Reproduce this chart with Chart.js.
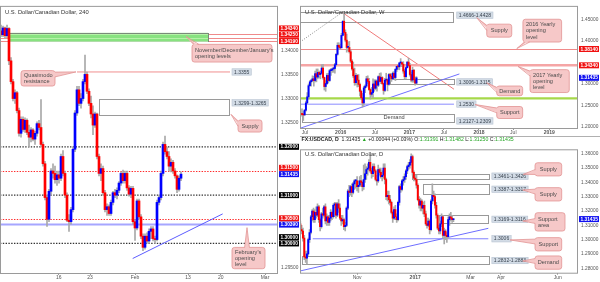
<!DOCTYPE html>
<html><head><meta charset="utf-8">
<script src="https://cdn.jsdelivr.net/npm/chart.js@4"></script>
<style>
html,body{margin:0;padding:0;background:#fff;width:600px;height:282px;overflow:hidden}
canvas{position:absolute}
#c1{left:0;top:0}
#c2{left:300px;top:0}
#c3{left:300px;top:136px}
</style></head><body>
<canvas id="c1" width="300" height="282"></canvas>
<canvas id="c2" width="300" height="136"></canvas>
<canvas id="c3" width="300" height="146"></canvas>
<script>
// ===================== DATA =====================
// Left panel: USDCAD 240 (4H)
const leftOpen = [1.3440,1.3432,1.3446,1.3430,1.3445,1.3378,1.3335,1.3300,1.3312,1.3275, 1.3228,1.3257,1.3236,1.3255,1.3230,1.3220,1.3235,1.3216,1.3228,1.3248, 1.3240,1.3205,1.3165,1.3095,1.3050,1.3108,1.3150,1.3145,1.3132,1.3142, 1.3135,1.3180,1.3145,1.3100,1.3048,1.3045,1.3070,1.3195,1.3270,1.3318, 1.3290,1.3300,1.3335,1.3350,1.3315,1.3290,1.3268,1.3245,1.3268,1.3180, 1.3145,1.3155,1.3105,1.3070,1.3076,1.3062,1.3085,1.3105,1.3100,1.3110, 1.3125,1.3145,1.3130,1.3145,1.3115,1.3102,1.3114,1.3045,1.3032,1.3088, 1.3055,1.3015,1.2992,1.3015,1.3005,1.3025,1.3030,1.3010,1.3008,1.3085, 1.3095,1.3145,1.3205,1.3190,1.3180,1.3160,1.3168,1.3150,1.3140,1.3112, 1.3135];
const leftHigh = [1.3452,1.3450,1.3448,1.3452,1.3447,1.3385,1.3340,1.3318,1.3315,1.3280, 1.3262,1.3262,1.3260,1.3258,1.3245,1.3240,1.3238,1.3232,1.3252,1.3255, 1.3298,1.3210,1.3170,1.3100,1.3112,1.3155,1.3165,1.3160,1.3150,1.3150, 1.3185,1.3192,1.3150,1.3105,1.3060,1.3075,1.3200,1.3275,1.3325,1.3325, 1.3310,1.3340,1.3390,1.3355,1.3320,1.3305,1.3285,1.3272,1.3270,1.3185, 1.3165,1.3160,1.3110,1.3082,1.3080,1.3090,1.3108,1.3112,1.3115,1.3128, 1.3148,1.3152,1.3150,1.3150,1.3120,1.3118,1.3118,1.3050,1.3092,1.3092, 1.3060,1.3020,1.3020,1.3022,1.3030,1.3035,1.3035,1.3015,1.3090,1.3100, 1.3150,1.3210,1.3222,1.3200,1.3190,1.3175,1.3172,1.3155,1.3142,1.3140, 1.3148];
const leftLow = [1.3428,1.3428,1.3425,1.3426,1.3370,1.3330,1.3295,1.3290,1.3270,1.3222, 1.3220,1.3232,1.3230,1.3225,1.3200,1.3210,1.3212,1.3205,1.3222,1.3235, 1.3200,1.3160,1.3090,1.3035,1.3045,1.3100,1.3135,1.3125,1.3120,1.3125, 1.3130,1.3140,1.3095,1.3045,1.3025,1.3040,1.3065,1.3190,1.3265,1.3285, 1.3280,1.3295,1.3330,1.3310,1.3285,1.3260,1.3225,1.3240,1.3175,1.3140, 1.3130,1.3100,1.3065,1.3058,1.3058,1.3058,1.3080,1.3095,1.3092,1.3105, 1.3120,1.3125,1.3125,1.3110,1.3098,1.3095,1.3040,1.3006,1.3028,1.3050, 1.3010,1.2985,1.2988,1.3000,1.3000,1.3010,1.3005,1.3000,1.3005,1.3080, 1.3090,1.3140,1.3185,1.3175,1.3150,1.3148,1.3145,1.3135,1.3105,1.3108, 1.3130];
const leftClose = [1.3432,1.3446,1.3430,1.3445,1.3378,1.3335,1.3300,1.3312,1.3275,1.3228, 1.3257,1.3236,1.3255,1.3230,1.3220,1.3235,1.3216,1.3228,1.3248,1.3240, 1.3205,1.3165,1.3095,1.3050,1.3108,1.3150,1.3145,1.3132,1.3142,1.3135, 1.3180,1.3145,1.3100,1.3048,1.3045,1.3070,1.3195,1.3270,1.3318,1.3290, 1.3300,1.3335,1.3350,1.3315,1.3290,1.3268,1.3245,1.3268,1.3180,1.3145, 1.3155,1.3105,1.3070,1.3076,1.3062,1.3085,1.3105,1.3100,1.3110,1.3125, 1.3145,1.3130,1.3145,1.3115,1.3102,1.3114,1.3045,1.3032,1.3088,1.3055, 1.3015,1.2992,1.3015,1.3005,1.3025,1.3030,1.3010,1.3008,1.3085,1.3095, 1.3145,1.3205,1.3190,1.3180,1.3160,1.3168,1.3150,1.3140,1.3112,1.3135, 1.31435];
const leftXTickPos = [28.85, 44.5, 67, 93.5, 109.85, 132];
const leftXTickLabels = ['16','23','Feb','13','20','Mar'];
const leftYTicks = [1.295, 1.325, 1.330, 1.335, 1.340];
const leftOpeningLevels = [1.3434, 1.3425, 1.3419];
const leftRoundLevels = [1.32, 1.31, 1.30];
const leftMidLevels = [1.315, 1.305];
const leftFebOpen = 1.3039;
const leftQMLevel = 1.3355;
const leftSupplyZone = [1.3299, 1.3265];
const leftTagLevels = [1.3434, 1.3425, 1.3419, 1.32, 1.315, 1.31435, 1.31, 1.305, 1.3039, 1.30, 1.30];
const leftTagKinds  = ['r','r','r','k','r','b','k','r','b','k','k'];

// Top-right panel: USDCAD weekly (Jun 2015 - Feb 2017)
const wkOpen = [1.2300,1.2290,1.2280,1.2390,1.2560,1.2700,1.2960,1.3050,1.3080,1.3120, 1.3080,1.3240,1.3160,1.3270,1.3220,1.3250,1.3370,1.3150,1.2940,1.3010, 1.3200,1.3080,1.3310,1.3320,1.3350,1.3360,1.3450,1.3690,1.3900,1.3860, 1.3840,1.4130,1.4460,1.4200,1.4020,1.3850,1.3850,1.3750,1.3530,1.3350, 1.3190,1.3030,1.3200,1.3090,1.2990,1.2830,1.2680,1.2560,1.2910,1.2950, 1.3120,1.3060,1.2870,1.2760,1.2800,1.3000,1.2900,1.3070,1.2970,1.3170, 1.3060,1.3150,1.3010,1.2850,1.3090,1.3100,1.2990,1.3220,1.3180,1.3120, 1.3250,1.3150,1.3340,1.3410,1.3400,1.3490,1.3500,1.3460,1.3300,1.3170, 1.3380,1.3510,1.3430,1.3220,1.3090,1.3320,1.3100,1.3020];
const wkHigh = [1.2420,1.2360,1.2410,1.2600,1.2800,1.3000,1.3080,1.3110,1.3190,1.3180, 1.3300,1.3350,1.3350,1.3300,1.3300,1.3450,1.3460,1.3160,1.3080,1.3240, 1.3250,1.3340,1.3360,1.3370,1.3390,1.3480,1.3710,1.3960,1.3960,1.3930, 1.4180,1.4470,1.4690,1.4260,1.4160,1.3980,1.3990,1.3800,1.3570,1.3510, 1.3370,1.3250,1.3220,1.3220,1.3020,1.2860,1.2780,1.2950,1.2980,1.3180, 1.3190,1.3130,1.2890,1.2920,1.3120,1.3100,1.3100,1.3090,1.3190,1.3250, 1.3260,1.3170,1.3020,1.3130,1.3250,1.3120,1.3240,1.3250,1.3240,1.3280, 1.3290,1.3360,1.3420,1.3450,1.3500,1.3590,1.3510,1.3520,1.3340,1.3400, 1.3520,1.3600,1.3480,1.3280,1.3390,1.3340,1.3160,1.3170];
const wkLow = [1.2250,1.2150,1.2270,1.2370,1.2540,1.2650,1.2950,1.2950,1.3050,1.2950, 1.3050,1.3050,1.3120,1.3140,1.3120,1.3240,1.3110,1.2860,1.2830,1.2990, 1.3020,1.3060,1.3200,1.3270,1.3270,1.3250,1.3420,1.3670,1.3830,1.3800, 1.3840,1.4120,1.4150,1.3980,1.3740,1.3770,1.3720,1.3490,1.3320,1.3150, 1.2970,1.2980,1.2930,1.2940,1.2720,1.2650,1.2460,1.2500,1.2800,1.2920, 1.3010,1.2850,1.2650,1.2710,1.2680,1.2830,1.2870,1.2830,1.2940,1.3050, 1.3010,1.2990,1.2760,1.2820,1.3060,1.2840,1.2970,1.3070,1.3060,1.3100, 1.3110,1.3080,1.3290,1.3340,1.3330,1.3460,1.3400,1.3250,1.3120,1.3130, 1.3370,1.3410,1.3180,1.3050,1.3040,1.3040,1.2970,1.2990];
const wkClose = [1.2290,1.2280,1.2390,1.2560,1.2700,1.2960,1.3050,1.3080,1.3120,1.3080, 1.3240,1.3160,1.3270,1.3220,1.3250,1.3370,1.3150,1.2940,1.3010,1.3200, 1.3080,1.3310,1.3320,1.3350,1.3360,1.3450,1.3690,1.3900,1.3860,1.3840, 1.4130,1.4460,1.4200,1.4020,1.3850,1.3850,1.3750,1.3530,1.3350,1.3190, 1.3030,1.3200,1.3090,1.2990,1.2830,1.2680,1.2560,1.2910,1.2950,1.3120, 1.3060,1.2870,1.2760,1.2800,1.3000,1.2900,1.3070,1.2970,1.3170,1.3060, 1.3150,1.3010,1.2850,1.3090,1.3100,1.2990,1.3220,1.3180,1.3120,1.3250, 1.3150,1.3340,1.3410,1.3400,1.3490,1.3500,1.3460,1.3300,1.3170,1.3380, 1.3510,1.3430,1.3220,1.3090,1.3320,1.3100,1.3020,1.31435];
const wkXTickPos = [2.3, 29.4, 55.5, 81.6, 107.9, 134.5, 160.6, 187.9];
const wkXTickLabels = ['Jul','2016','Jul','2017','Jul','2018','Jul','2019'];
const wkYTicks = [1.20, 1.25, 1.30, 1.40, 1.45];
const wkYearOpen = [1.3814, 1.3434];
const wkSupplyZone = [1.4666, 1.4428];
const wkDemandZone = [1.3006, 1.3115];
const wkDemandZone2 = [1.2127, 1.2309];
const wkSupport = 1.2530;
const wkGreenLevel = 1.2665;
const wkTagLevels = [1.3814, 1.3434, 1.31435];
const wkTagKinds = ['r','r','b'];

// Bottom-right panel: USDCAD daily (Sep 2016 - Feb 2017)
const dOpen = [1.3110,1.3070,1.3060,1.3010,1.2880,1.2870,1.2900,1.3000,1.3050,1.3160, 1.3200,1.3140,1.3190,1.3170,1.3230,1.3140,1.3090,1.3180,1.3170,1.3230, 1.3130,1.3160,1.3120,1.3150,1.3190,1.3160,1.3240,1.3250,1.3170,1.3250, 1.3220,1.3150,1.3130,1.3140,1.3090,1.3100,1.3220,1.3340,1.3330,1.3370, 1.3330,1.3390,1.3410,1.3410,1.3370,1.3380,1.3410,1.3400,1.3370,1.3420, 1.3460,1.3490,1.3500,1.3540,1.3480,1.3460,1.3510,1.3480,1.3420,1.3410, 1.3490,1.3470,1.3440,1.3450,1.3500,1.3420,1.3300,1.3310,1.3280,1.3260, 1.3190,1.3150,1.3210,1.3160,1.3140,1.3260,1.3370,1.3350,1.3410,1.3420, 1.3440,1.3480,1.3510,1.3520,1.3540,1.3580,1.3470,1.3430,1.3420,1.3380, 1.3280,1.3240,1.3270,1.3220,1.3240,1.3180,1.3110,1.3100,1.3130,1.3070, 1.3270,1.3310,1.3300,1.3240,1.3170,1.3080,1.3060,1.3110,1.3160,1.3030, 1.3060,1.3030,1.3020,1.3140,1.3160,1.3150,1.31391];
const dHigh = [1.3130,1.3100,1.3080,1.3030,1.2920,1.2920,1.3010,1.3070,1.3170,1.3210, 1.3220,1.3210,1.3230,1.3250,1.3240,1.3150,1.3190,1.3220,1.3240,1.3250, 1.3180,1.3170,1.3170,1.3210,1.3200,1.3250,1.3260,1.3260,1.3260,1.3280, 1.3250,1.3170,1.3170,1.3150,1.3120,1.3230,1.3350,1.3380,1.3380,1.3390, 1.3400,1.3420,1.3420,1.3440,1.3410,1.3440,1.3450,1.3410,1.3520,1.3530, 1.3510,1.3530,1.3560,1.3590,1.3500,1.3530,1.3530,1.3490,1.3450,1.3520, 1.3500,1.3500,1.3480,1.3530,1.3530,1.3430,1.3340,1.3340,1.3310,1.3270, 1.3200,1.3230,1.3240,1.3180,1.3270,1.3380,1.3390,1.3420,1.3440,1.3460, 1.3490,1.3520,1.3540,1.3560,1.3600,1.3590,1.3480,1.3450,1.3450,1.3390, 1.3300,1.3290,1.3280,1.3260,1.3270,1.3200,1.3150,1.3150,1.3140,1.3280, 1.3390,1.3340,1.3320,1.3260,1.3180,1.3100,1.3130,1.3180,1.3170,1.3080, 1.3070,1.3050,1.3160,1.3180,1.3190,1.3170,1.31482];
const dLow = [1.3060,1.3040,1.2990,1.2860,1.2840,1.2830,1.2890,1.2980,1.3040,1.3130, 1.3120,1.3120,1.3150,1.3160,1.3120,1.3060,1.3080,1.3150,1.3160,1.3110, 1.3100,1.3100,1.3100,1.3130,1.3140,1.3150,1.3160,1.3150,1.3160,1.3190, 1.3140,1.3100,1.3110,1.3070,1.3060,1.3090,1.3210,1.3300,1.3310,1.3300, 1.3320,1.3350,1.3360,1.3340,1.3330,1.3370,1.3370,1.3340,1.3350,1.3400, 1.3420,1.3450,1.3480,1.3470,1.3430,1.3440,1.3470,1.3410,1.3380,1.3400, 1.3450,1.3430,1.3410,1.3430,1.3390,1.3280,1.3270,1.3250,1.3240,1.3180, 1.3120,1.3140,1.3140,1.3120,1.3130,1.3240,1.3330,1.3340,1.3380,1.3400, 1.3420,1.3460,1.3490,1.3500,1.3520,1.3450,1.3410,1.3410,1.3360,1.3270, 1.3220,1.3200,1.3200,1.3180,1.3160,1.3100,1.3080,1.3090,1.3040,1.3060, 1.3250,1.3270,1.3220,1.3150,1.3070,1.3040,1.3040,1.3090,1.3010,1.2970, 1.3000,1.2980,1.3010,1.3100,1.3130,1.3120,1.31250];
const dClose = [1.3070,1.3060,1.3010,1.2880,1.2870,1.2900,1.3000,1.3050,1.3160,1.3200, 1.3140,1.3190,1.3170,1.3230,1.3140,1.3090,1.3180,1.3170,1.3230,1.3130, 1.3160,1.3120,1.3150,1.3190,1.3160,1.3240,1.3250,1.3170,1.3250,1.3220, 1.3150,1.3130,1.3140,1.3090,1.3100,1.3220,1.3340,1.3330,1.3370,1.3330, 1.3390,1.3410,1.3410,1.3370,1.3380,1.3410,1.3400,1.3370,1.3420,1.3460, 1.3490,1.3500,1.3540,1.3480,1.3460,1.3510,1.3480,1.3420,1.3410,1.3490, 1.3470,1.3440,1.3450,1.3500,1.3420,1.3300,1.3310,1.3280,1.3260,1.3190, 1.3150,1.3210,1.3160,1.3140,1.3260,1.3370,1.3350,1.3410,1.3420,1.3440, 1.3480,1.3510,1.3520,1.3540,1.3580,1.3470,1.3430,1.3420,1.3380,1.3280, 1.3240,1.3270,1.3220,1.3240,1.3180,1.3110,1.3100,1.3130,1.3070,1.3270, 1.3310,1.3300,1.3240,1.3170,1.3080,1.3060,1.3110,1.3160,1.3030,1.3060, 1.3030,1.3020,1.3140,1.3160,1.3150,1.3140,1.31435];
const dXTickPos = [43, 87, 129, 152, 195];
const dXTickLabels = ['Nov','2017','Mar','Apr','Jun'];
const dYTicks = [1.28, 1.29, 1.30, 1.31, 1.32, 1.33, 1.34, 1.35, 1.36];
const dSupply1 = [1.3461, 1.3426];
const dSupply2 = [1.3387, 1.3317];
const dSupportArea = [1.3169, 1.3116];
const dSupport = 1.3006;
const dDemand = [1.2883, 1.2825];
const dDemandText = '1.2832-1.2883';
const dTagLevels = [1.31435];
const dTagKinds = ['b'];

// ===================== RENDERING =====================
const SANS = '"Liberation Sans", Arial, Helvetica, sans-serif';
Chart.defaults.font.family = SANS;
const TAGCOL = {r:'#f01010', b:'#1010f0', k:'#000000'};

function candleDatasets(O,H,L,C,bodyW){
  const body=[], wick=[], cols=[];
  for (let i=0;i<C.length;i++){
    wick.push({x:i, y:[Math.min(L[i],O[i],C[i]), Math.max(H[i],O[i],C[i])]});
    body.push({x:i, y:[Math.min(O[i],C[i]), Math.max(O[i],C[i])]});
    cols.push(C[i] >= O[i] ? '#0000ff' : '#ff0000');
  }
  return [
    {data:body, backgroundColor:cols, barThickness:bodyW, minBarLength:1, grouped:false, borderWidth:0, order:1},
    {data:wick, backgroundColor:'#a9a9a9', barThickness:1, grouped:false, borderWidth:0, order:2}
  ];
}
function X(c,v){return c.scales.x.getPixelForValue(v);}
function Y(c,v){return c.scales.y.getPixelForValue(v);}
function rrect(ctx,x,y,w,h,r){ctx.beginPath();ctx.moveTo(x+r,y);ctx.arcTo(x+w,y,x+w,y+h,r);ctx.arcTo(x+w,y+h,x,y+h,r);ctx.arcTo(x,y+h,x,y,r);ctx.arcTo(x,y,x+w,y,r);ctx.closePath();}

function drawItem(c, it){
  const ctx=c.ctx, ca=c.chartArea;
  ctx.save();
  ctx.setLineDash(it.dash||[]);
  ctx.lineWidth = it.w||1;
  ctx.strokeStyle = it.color||'#909090';
  if (it.t==='hline'){
    let y=Y(c,it.v); if ((it.w||1)%2===1) y=Math.round(y)+0.5;
    const x0 = it.x0==null?ca.left:X(c,it.x0), x1 = it.x1==null?ca.right:X(c,it.x1);
    ctx.beginPath();ctx.moveTo(x0,y);ctx.lineTo(x1,y);ctx.stroke();
  } else if (it.t==='seg'){
    ctx.beginPath();ctx.moveTo(X(c,it.x0),Y(c,it.y0));ctx.lineTo(X(c,it.x1),Y(c,it.y1));ctx.stroke();
  } else if (it.t==='rect'){
    const x0=X(c,it.x0),x1=X(c,it.x1),y0=Y(c,it.y0),y1=Y(c,it.y1);
    const l=Math.min(x0,x1),t=Math.min(y0,y1),w=Math.abs(x1-x0),h=Math.abs(y1-y0);
    if (it.fill){ctx.fillStyle=it.fill;ctx.fillRect(l,t,w,h);}
    if (it.color!=='none'){ctx.strokeRect(Math.round(l)+0.5,Math.round(t)+0.5,Math.round(w),Math.round(h));}
  } else if (it.t==='plabel'){
    ctx.font='5px '+SANS;
    const tw=ctx.measureText(it.text).width;
    const x=X(c,it.x), y=Y(c,it.v);
    ctx.fillStyle='#d3dce6';ctx.fillRect(x,y-3.2,tw+4,6.4);
    ctx.strokeStyle='#b8c4d2';ctx.lineWidth=0.6;ctx.strokeRect(x,y-3.2,tw+4,6.4);
    ctx.fillStyle='#3a4450';ctx.textBaseline='middle';ctx.textAlign='left';ctx.fillText(it.text,x+2,y+0.3);
  } else if (it.t==='text'){
    ctx.font=(it.font||'5.5px ')+SANS;ctx.fillStyle=it.fill||'#333';ctx.textBaseline='middle';ctx.textAlign=it.align||'center';
    ctx.fillText(it.text,X(c,it.x),Y(c,it.v));
  } else if (it.t==='callout'){
    const x0=X(c,it.x0),x1=X(c,it.x1),y0=Y(c,it.y0),y1=Y(c,it.y1);
    const l=Math.min(x0,x1),r=Math.max(x0,x1),t=Math.min(y0,y1),b=Math.max(y0,y1);
    const tx=X(c,it.tx), ty=Y(c,it.ty);
    const dx = tx<l?l-tx:(tx>r?tx-r:0), dy = ty<t?t-ty:(ty>b?ty-b:0);
    const hw=2.4; let q1,q2,p1,p2;
    if (dx>=dy){ const by=Math.max(t+hw+1.5,Math.min(b-hw-1.5,ty)); const ex=tx<l?l:r; const s=tx<l?1.5:-1.5;
      q1=[ex,by-hw];q2=[ex,by+hw];p1=[ex+s,by-hw];p2=[ex+s,by+hw]; }
    else { const bx=Math.max(l+hw+2,Math.min(r-hw-2,tx)); const ey=ty<t?t:b; const s=ty<t?1.5:-1.5;
      q1=[bx-hw,ey];q2=[bx+hw,ey];p1=[bx-hw,ey+s];p2=[bx+hw,ey+s]; }
    ctx.fillStyle='#f6c8c8';ctx.strokeStyle='#e29393';ctx.lineWidth=0.8;
    rrect(ctx,l,t,r-l,b-t,2.5);ctx.fill();ctx.stroke();
    ctx.beginPath();ctx.moveTo(p1[0],p1[1]);ctx.lineTo(tx,ty);ctx.lineTo(p2[0],p2[1]);ctx.closePath();ctx.fill();
    ctx.beginPath();ctx.moveTo(q1[0],q1[1]);ctx.lineTo(tx,ty);ctx.lineTo(q2[0],q2[1]);ctx.stroke();
    ctx.fillStyle='#4b4b4b';ctx.font='5.6px '+SANS;ctx.textBaseline='middle';
    const n=it.lines.length, lh=6.3, cy=(t+b)/2;
    ctx.textAlign = n>1 ? 'left':'center';
    const xx = n>1 ? l+3 : (l+r)/2;
    it.lines.forEach((s,k)=>ctx.fillText(s,xx,cy+(k-(n-1)/2)*lh+0.3));
  }
  ctx.restore();
}

function drawTags(c, levels, kinds){
  const ctx=c.ctx, ca=c.chartArea;
  const items = levels.map((v,i)=>({v, k:kinds[i], y:Y(c,v)}));
  items.sort((a,b)=>b.y-a.y);
  for (let k=1;k<items.length;k++) if (items[k-1].y-items[k].y<6.3) items[k].y=items[k-1].y-6.3;
  const x=ca.right+1, w=c.width-ca.right-2, h=6;
  ctx.save();
  items.forEach(t=>{
    ctx.fillStyle=TAGCOL[t.k];ctx.fillRect(x,t.y-h/2,w,h);
    ctx.fillStyle='#fff';ctx.font='bold 4.8px '+SANS;ctx.textBaseline='middle';ctx.textAlign='left';
    ctx.fillText(t.v.toFixed(5),x+1.5,t.y+0.3);
  });
  ctx.restore();
}

function annotPlugin(o){
  return {
    id:'annot',
    beforeDatasetsDraw(c){
      const ctx=c.ctx, ca=c.chartArea;
      ctx.save();ctx.beginPath();ctx.rect(ca.left,ca.top,ca.right-ca.left,ca.bottom-ca.top);ctx.clip();
      o.under.forEach(it=>drawItem(c,it));
      ctx.restore();
    },
    afterDraw(c){
      const ctx=c.ctx, ca=c.chartArea;
      ctx.save();
      ctx.strokeStyle='#9a9a9a';ctx.lineWidth=1;
      ctx.strokeRect(ca.left+0.5,ca.top+0.5,ca.right-ca.left-1,ca.bottom-ca.top);
      ctx.restore();
      ctx.save();ctx.beginPath();ctx.rect(ca.left,ca.top,ca.right-ca.left,ca.bottom-ca.top);ctx.clip();
      o.over.forEach(it=>drawItem(c,it));
      ctx.restore();
      ctx.save();
      ctx.font='5.8px '+SANS;ctx.fillStyle='#333';ctx.textBaseline='middle';ctx.textAlign='left';
      ctx.fillText(o.title, ca.left+5, ca.top+o.titleDY);
      ctx.restore();
      drawTags(c,o.tagLevels,o.tagKinds);
      if (o.extra) o.extra(c);
    }
  };
}

function makeChart(id,o){
  return new Chart(document.getElementById(id),{
    type:'bar',
    data:{datasets:candleDatasets(o.O,o.H,o.L,o.C,o.bodyW)},
    options:{
      responsive:false, animation:false, devicePixelRatio:1, events:[],
      layout:{autoPadding:false, padding:{top:o.padTop,left:0,right:0,bottom:0}},
      plugins:{legend:{display:false},tooltip:{enabled:false}},
      scales:{
        x:{type:'linear',min:o.xMin,max:o.xMax,offset:false,
           grid:{display:true,drawOnChartArea:false,drawTicks:true,tickLength:2,color:'#999',offset:false},
           border:{display:false},
           afterBuildTicks:s=>{s.ticks=o.xTickPos.map(v=>({value:v}));},
           afterFit:s=>{s.height=o.xH;},
           ticks:{autoSkip:false,maxRotation:0,minRotation:0,padding:0,color:'#555',
                  font:ctx=>({size:5,family:SANS,weight:/^\d{4}$/.test(o.xTickLabels[ctx.index]||'')?'bold':'normal'}),
                  callback:(v,i)=>o.xTickLabels[i]}},
        y:{type:'linear',position:'right',min:o.yMin,max:o.yMax,
           grid:{display:false,drawTicks:false,tickLength:0},border:{display:false},
           afterBuildTicks:s=>{s.ticks=o.yTicks.map(v=>({value:v}));},
           afterFit:s=>{s.width=o.yW;},
           ticks:{autoSkip:false,padding:3,color:'#555',font:{size:4.8,family:SANS},callback:v=>Number(v).toFixed(5)}}
      }
    },
    plugins:[annotPlugin(o)]
  });
}

// ---------- Left 240 chart ----------
const pinkLine='#ef8a8a';
makeChart('c1',{
  O:leftOpen,H:leftHigh,L:leftLow,C:leftClose,bodyW:2,
  padTop:2,xH:9,yW:22,xMin:-0.5,xMax:138.5,yMin:1.29388,yMax:1.34918,
  xTickPos:leftXTickPos,xTickLabels:leftXTickLabels,yTicks:leftYTicks,
  tagLevels:leftTagLevels,tagKinds:leftTagKinds,
  title:'U.S. Dollar/Canadian Dollar, 240',titleDY:7,
  under:[
    ...leftOpeningLevels.map(v=>({t:'hline',v,color:pinkLine})),
    {t:'rect',x0:4,x1:103.5,y0:leftOpeningLevels[0]+0.0002,y1:leftOpeningLevels[2],fill:'rgba(120,222,110,0.88)',color:'#7a8a7a'},
    ...leftOpeningLevels.map(v=>({t:'hline',v,x0:4,x1:103.5,color:'rgba(200,255,190,0.7)'})),
    {t:'hline',v:leftOpeningLevels[0],x1:4,color:'#d05050'},
    {t:'seg',x0:38,y0:leftQMLevel,x1:114.5,y1:leftQMLevel,color:'#f09090'},
    {t:'rect',x0:49,x1:114,y0:leftSupplyZone[0],y1:leftSupplyZone[1],color:'#9a9a9a'},
    ...leftRoundLevels.map(v=>({t:'hline',v,color:'#333',w:1.3,dash:[1.4,1.4]})),
    ...leftMidLevels.map(v=>({t:'hline',v,color:'#ff2a2a',w:1,dash:[1.4,1.4]})),
    {t:'hline',v:leftFebOpen,color:'#a6a6ff',w:2},
    {t:'seg',x0:65.85,y0:1.29688,x1:110.85,y1:1.30612,color:'#5c5cff'}
  ],
  over:[
    {t:'plabel',x:115.5,v:leftQMLevel,text:'1.3355'},
    {t:'plabel',x:115.5,v:1.3291,text:leftSupplyZone.join('-')},
    {t:'callout',x0:95.5,x1:135.5,y0:1.34122,y1:1.33755,tx:92.5,ty:1.34286,lines:["November/December/January's",'opening levels']},
    {t:'callout',x0:10,x1:27,y0:1.33578,y1:1.33259,tx:37.5,ty:1.33551,lines:['Quasimodo','resistance']},
    {t:'callout',x0:118.5,x1:130.5,y0:1.32557,y1:1.32306,tx:115,ty:1.32673,lines:['Supply']},
    {t:'callout',x0:115.5,x1:132,y0:1.29918,y1:1.29476,tx:123,ty:1.30327,lines:["February's",'opening','level']}
  ]
});

// ---------- Top-right weekly chart ----------
makeChart('c2',{
  O:wkOpen,H:wkHigh,L:wkLow,C:wkClose,bodyW:1.3,
  padTop:3,xH:8,yW:22,xMin:-1.5,xMax:209.75,yMin:1.1976,yMax:1.4817,
  xTickPos:wkXTickPos,xTickLabels:wkXTickLabels,yTicks:wkYTicks,
  tagLevels:wkTagLevels,tagKinds:wkTagKinds,
  title:'U.S. Dollar/Canadian Dollar, W',titleDY:6.3,
  under:[
    {t:'seg',x0:-1.5,y0:1.3976,x1:30.2,y1:1.4658,color:'#8a8a8a',dash:[1,1.5]},
    {t:'rect',x0:-1.5,x1:115,y0:wkSupplyZone[0],y1:wkSupplyZone[1],color:'#999'},
    {t:'seg',x0:30.95,y0:1.4658,x1:115.5,y1:1.2878,color:'#f07a7a'},
    {t:'hline',v:wkYearOpen[0],color:'#f08a8a',w:1},
    {t:'hline',v:wkYearOpen[1],color:'#f5a5a5',w:2.5},
    {t:'rect',x0:66.9,x1:115.5,y0:wkDemandZone[0],y1:wkDemandZone[1],color:'#999'},
    {t:'seg',x0:-1.5,y0:1.1969,x1:119.6,y1:1.3233,color:'#7070ff'},
    {t:'hline',v:wkGreenLevel,color:'#a6d84a',w:2.2},
    {t:'seg',x0:-1.5,y0:wkSupport,x1:115.5,y1:wkSupport,color:'#8a8aff'},
    {t:'rect',x0:-0.2,x1:115.5,y0:wkDemandZone2[0],y1:wkDemandZone2[1],color:'#999'}
  ],
  over:[
    {t:'text',x:70,v:1.2218,text:'Demand',font:'5.6px ',fill:'#444'},
    {t:'plabel',x:117.6,v:1.4601,text:wkSupplyZone.join('-')},
    {t:'plabel',x:117.6,v:1.3048,text:wkDemandZone.join('-')},
    {t:'plabel',x:117.6,v:1.2533,text:wkSupport.toFixed(4)},
    {t:'plabel',x:117.6,v:1.2140,text:wkDemandZone2.join('-')},
    {t:'callout',x0:140.4,x1:159.4,y0:1.4392,y1:1.4090,tx:132.8,ty:1.4544,lines:['Supply']},
    {t:'callout',x0:167.9,x1:197.3,y0:1.4506,y1:1.3976,tx:163.2,ty:1.3824,lines:['2016 Yearly','opening','level']},
    {t:'callout',x0:173.3,x1:203.1,y0:1.3333,y1:1.2801,tx:164.2,ty:1.3408,lines:['2017 Yearly','opening','level']},
    {t:'callout',x0:148,x1:167.7,y0:1.2953,y1:1.2726,tx:140.4,ty:1.3028,lines:['Demand']},
    {t:'callout',x0:148,x1:167.7,y0:1.2476,y1:1.2197,tx:131.5,ty:1.2522,lines:['Support']}
  ]
});

// ---------- Bottom-right daily chart ----------
const last = dClose.length-1;
makeChart('c3',{
  O:dOpen,H:dHigh,L:dLow,C:dClose,bodyW:1.3,
  padTop:13.3,xH:9.3,yW:22,xMin:-0.25,xMax:210.35,yMin:1.2769,yMax:1.3631,
  xTickPos:dXTickPos,xTickLabels:dXTickLabels,yTicks:dYTicks,
  tagLevels:dTagLevels,tagKinds:dTagKinds,
  title:'U.S. Dollar/Canadian Dollar, D',titleDY:5,
  under:[
    {t:'rect',x0:84.4,x1:142.4,y0:dSupply1[0],y1:dSupply1[1],color:'#999'},
    {t:'rect',x0:92.7,x1:142.4,y0:dSupply2[0],y1:dSupply2[1],color:'#999'},
    {t:'rect',x0:105.3,x1:142.4,y0:dSupportArea[0],y1:dSupportArea[1],color:'#999'},
    {t:'rect',x0:1.0,x1:142.4,y0:dDemand[0],y1:dDemand[1],color:'#999'},
    {t:'seg',x0:9.4,y0:dSupport,x1:142.4,y1:dSupport,color:'#8080ff'},
    {t:'seg',x0:-0.25,y0:1.2781,x1:142.4,y1:1.3079,color:'#6e6eff'}
  ],
  over:[
    {t:'plabel',x:145.1,v:1.34435,text:dSupply1.join('-')},
    {t:'plabel',x:145.1,v:1.3352,text:dSupply2.join('-')},
    {t:'plabel',x:145.1,v:1.3142,text:dSupportArea.join('-')},
    {t:'plabel',x:145.1,v:dSupport,text:dSupport.toFixed(4)},
    {t:'plabel',x:145.1,v:1.2854,text:dDemandText},
    {t:'callout',x0:177.8,x1:198,y0:1.3537,y1:1.3445,tx:168.9,ty:1.3456,lines:['Supply']},
    {t:'callout',x0:177.8,x1:198,y0:1.3363,y1:1.3270,tx:168.5,ty:1.3347,lines:['Supply']},
    {t:'callout',x0:177.8,x1:200.5,y0:1.3188,y1:1.3060,tx:168.5,ty:1.3130,lines:['Support','area']},
    {t:'callout',x0:177.8,x1:198,y0:1.3014,y1:1.2921,tx:158.8,ty:1.2998,lines:['Support']},
    {t:'callout',x0:177.8,x1:198,y0:1.2886,y1:1.2793,tx:168.5,ty:1.2851,lines:['Demand']}
  ],
  extra:(c)=>{
    const ctx=c.ctx; ctx.save();
    const chg = dClose[last]-dOpen[last];
    const parts=[
      ['FX:USDCAD, D  ','#222','bold '],
      [dClose[last].toFixed(5)+' ','#222',''],
      ['\u25B2 ','#26a626',''],
      [(chg>=0?'+':'')+chg.toFixed(5)+' ('+(chg>=0?'+':'')+(chg/dOpen[last]*100).toFixed(2)+'%) ','#222',''],
      ['O:','#222',''],[dOpen[last].toFixed(5)+' ','#26a626',''],
      ['H:','#222',''],[dHigh[last].toFixed(5)+' ','#26a626',''],
      ['L:','#222',''],[dLow[last].toFixed(5)+' ','#26a626',''],
      ['C:','#222',''],[dClose[last].toFixed(5),'#26a626','']
    ];
    let x=1.5; ctx.textBaseline='middle'; ctx.textAlign='left';
    parts.forEach(p=>{ctx.font=p[2]+'5.2px '+SANS;ctx.fillStyle=p[1];ctx.fillText(p[0],x,4);x+=ctx.measureText(p[0]).width;});
    ctx.strokeStyle='#b0b0b0';ctx.lineWidth=1;ctx.beginPath();ctx.moveTo(0,0.5);ctx.lineTo(300,0.5);ctx.stroke();
    ctx.restore();
  }
});
</script>
</body></html>
